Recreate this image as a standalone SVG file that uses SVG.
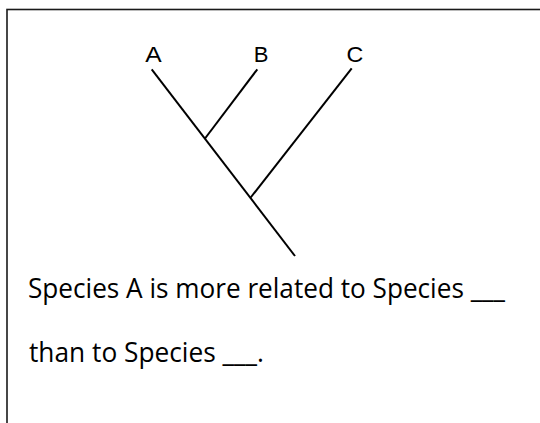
<svg xmlns="http://www.w3.org/2000/svg" width="540" height="423" viewBox="0 0 540 423">
  <style>
    .frame { fill: #ffffff; stroke: #1a1a1a; stroke-width: 1.6; }
    .branch { stroke: #000000; stroke-width: 2; stroke-linecap: butt; fill: none; }
    .label { font-family: "Liberation Sans", Arial, sans-serif; font-size: 22px; fill: #000000; text-anchor: middle; }
    .body { font-family: "Open Sans", "Noto Sans", sans-serif; font-size: 26.5px; fill: #000000; }
  </style>
  <rect class="frame" x="7" y="9.5" width="560" height="440"/>
  <g id="node-A"><text class="label" transform="translate(153.5 62) scale(1.12 1)" x="0" y="0">A</text></g>
  <g id="node-B"><text class="label" transform="translate(261 62) scale(1.0 1)" x="0" y="0">B</text></g>
  <g id="node-C"><text class="label" transform="translate(355 62) scale(1.06 1)" x="0" y="0">C</text></g>
  <g id="connectors">
    <line class="branch" x1="151.7" y1="69.3" x2="295" y2="256"/>
    <line class="branch" x1="257.3" y1="69.3" x2="205" y2="138.5"/>
    <line class="branch" x1="351.7" y1="68.3" x2="250.7" y2="197.5"/>
  </g>
  <g id="question">
    <text class="body" x="28" y="298" textLength="477" lengthAdjust="spacingAndGlyphs">Species A is more related to Species ___</text>
    <text class="body" x="29" y="362" textLength="235" lengthAdjust="spacingAndGlyphs">than to Species ___.</text>
  </g>
</svg>
